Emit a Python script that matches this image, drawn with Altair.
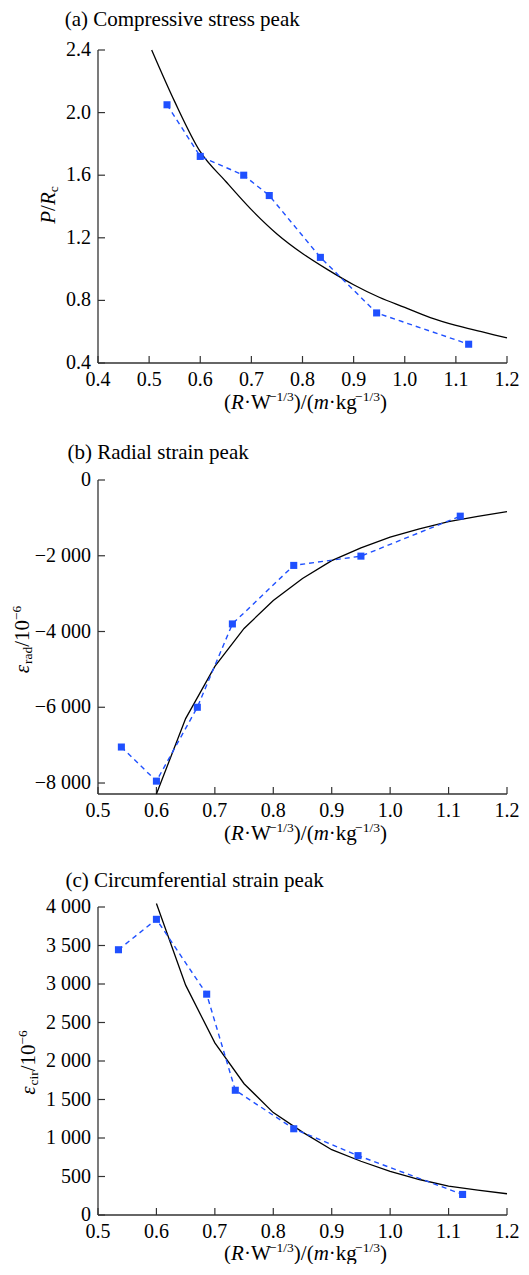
import altair as alt
import pandas as pd

# ---------------- data ----------------
A_X = [0.535, 0.600, 0.685, 0.735, 0.835, 0.945, 1.125]
A_Y = [2.05, 1.72, 1.60, 1.47, 1.075, 0.72, 0.52]
A_FIT_X = [0.505, 0.55, 0.60, 0.65, 0.70, 0.75, 0.80, 0.85, 0.90, 0.95, 1.00, 1.05, 1.10, 1.15, 1.20]
A_FIT_Y = [2.40, 2.07, 1.75, 1.56, 1.38, 1.225, 1.10, 0.995, 0.90, 0.82, 0.755, 0.69, 0.64, 0.60, 0.56]

B_X = [0.54, 0.60, 0.67, 0.73, 0.835, 0.95, 1.12]
B_Y = [-7050, -7950, -6000, -3800, -2255, -2010, -955]
B_FIT_X = [0.60, 0.65, 0.70, 0.75, 0.80, 0.85, 0.90, 0.95, 1.00, 1.05, 1.10, 1.15, 1.20]
B_FIT_Y = [-8290, -6300, -4920, -3920, -3180, -2600, -2130, -1790, -1510, -1290, -1100, -960, -836]

C_X = [0.535, 0.600, 0.686, 0.735, 0.835, 0.945, 1.124]
C_Y = [3445, 3840, 2868, 1620, 1120, 771, 267]
C_FIT_X = [0.60, 0.65, 0.70, 0.75, 0.80, 0.85, 0.90, 0.95, 1.00, 1.05, 1.10, 1.15, 1.20]
C_FIT_Y = [4045, 2985, 2235, 1705, 1330, 1076, 848, 698, 568, 461, 375, 323, 276]

# ticks and tick labels
A_XTICKS = [0.4, 0.5, 0.6, 0.7, 0.8, 0.9, 1.0, 1.1, 1.2]
A_XLABELS = ["0.4", "0.5", "0.6", "0.7", "0.8", "0.9", "1.0", "1.1", "1.2"]
BC_XTICKS = [0.5, 0.6, 0.7, 0.8, 0.9, 1.0, 1.1, 1.2]
BC_XLABELS = ["0.5", "0.6", "0.7", "0.8", "0.9", "1.0", "1.1", "1.2"]
A_YTICKS = [0.4, 0.8, 1.2, 1.6, 2.0, 2.4]
A_YLABELS = ["0.4", "0.8", "1.2", "1.6", "2.0", "2.4"]
B_YTICKS = [0, -2000, -4000, -6000, -8000]
B_YLABELS = ["0", "−2 000", "−4 000", "−6 000", "−8 000"]
C_YTICKS = [0, 500, 1000, 1500, 2000, 2500, 3000, 3500, 4000]
C_YLABELS = ["0", "500", "1 000", "1 500", "2 000", "2 500", "3 000", "3 500", "4 000"]

A_XDOM, A_YDOM = [0.4, 1.2], [0.4, 2.4]
B_XDOM, B_YDOM = [0.5, 1.2], [-8290, 0]
C_XDOM, C_YDOM = [0.5, 1.2], [0, 4000]

TITLE_A = "(a) Compressive stress peak"
TITLE_B = "(b) Radial strain peak"
TITLE_C = "(c) Circumferential strain peak"

# ---------------- styling ----------------
FONT = "Liberation Serif"
BLUE = "#1f50ff"
AXC = "#333333"
W = 409
MAIN = 21
SUB = 13.5
LABEL = 20

REG = {"(": .333, ")": .333, "/": .278, "·": .25, "W": .944, "k": .5, "g": .5,
       "−": .564, "1": .5, "3": .5, "0": .5, "6": .5, "r": .333, "a": .444,
       "d": .5, "c": .444, "i": .278}
ITA = {"R": .611, "m": .722, "P": .611, "ε": .44}


def text_width(s, italic, size):
    table = ITA if italic else REG
    return sum(table.get(ch, REG.get(ch, 0.5)) for ch in s) * size


def text_layer(s, x, y, size, italic=False, angle=0):
    kw = dict(align="left", baseline="alphabetic", font=FONT, fontSize=size, color="black")
    if italic:
        kw["fontStyle"] = "italic"
    if angle:
        kw["angle"] = angle
    return alt.Chart(pd.DataFrame({"t": [s]})).mark_text(**kw).encode(
        x=alt.value(x), y=alt.value(y), text="t:N")


def rich_h(segs, cx, base):
    widths = [text_width(s, it, sz) for s, it, sz, sh in segs]
    x = cx - sum(widths) / 2
    out = []
    for (s, it, sz, sh), w in zip(segs, widths):
        out.append(text_layer(s, x, base + sh, sz, it))
        x += w
    return out


def rich_v(segs, bx, cy):
    widths = [text_width(s, it, sz) for s, it, sz, sh in segs]
    y = cy + sum(widths) / 2
    out = []
    for (s, it, sz, sh), w in zip(segs, widths):
        out.append(text_layer(s, bx + sh, y, sz, it, angle=270))
        y -= w
    return out


XT = [("(", False, MAIN, 0), ("R", True, MAIN, 0), ("·W", False, MAIN, 0),
      ("−1/3", False, SUB, -8), (")/(", False, MAIN, 0), ("m", True, MAIN, 0),
      ("·kg", False, MAIN, 0), ("−1/3", False, SUB, -8), (")", False, MAIN, 0)]
YA = [("P", True, MAIN, 0), ("/", False, MAIN, 0), ("R", True, MAIN, 0), ("c", False, SUB, 3)]
YB = [("ε", True, MAIN, 0), ("rad", False, SUB, 3), ("/10", False, MAIN, 0), ("−6", False, SUB, -8)]
YC = [("ε", True, MAIN, 0), ("cir", False, SUB, 3), ("/10", False, MAIN, 0), ("−6", False, SUB, -8)]


def panel(px, py, fx, fy, xdom, ydom, xticks, xlabels, yticks, ylabels, height, yrange,
          title, tx, ty, ysegs, ybx, ycy, interp, lab_off, title_off, anchor=False):
    xs = alt.Scale(domain=xdom, nice=False, zero=False)
    if yrange is not None:
        ys = alt.Scale(domain=ydom, nice=False, zero=False, range=yrange)
    else:
        ys = alt.Scale(domain=ydom, nice=False, zero=False)

    def X(f):
        return alt.X(f, scale=xs, axis=None)

    def Y(f):
        return alt.Y(f, scale=ys, axis=None)

    pts = pd.DataFrame({"x": px, "y": py})
    fit = pd.DataFrame({"x": fx, "y": fy})
    xt_df = pd.DataFrame({"v": xticks, "lab": xlabels})
    yt_df = pd.DataFrame({"v": yticks, "lab": ylabels})
    xdom_df = pd.DataFrame({"lo": [xdom[0]], "hi": [xdom[1]]})
    ydom_df = pd.DataFrame({"lo": [ydom[0]], "hi": [ydom[1]]})

    xdomain = alt.Chart(xdom_df).mark_rule(color=AXC, strokeWidth=1.3).encode(
        x=X("lo:Q"), x2="hi:Q", y=alt.value(height))
    ydomain = alt.Chart(ydom_df).mark_rule(color=AXC, strokeWidth=1.3).encode(
        y=Y("lo:Q"), y2="hi:Q", x=alt.value(0))
    xt = alt.Chart(xt_df).mark_rule(color=AXC, strokeWidth=1.2).encode(
        x=X("v:Q"), y=alt.value(height), y2=alt.value(height - 7))
    yt = alt.Chart(yt_df).mark_rule(color=AXC, strokeWidth=1.2).encode(
        y=Y("v:Q"), x=alt.value(0), x2=alt.value(7))
    xl = alt.Chart(xt_df).mark_text(align="center", baseline="alphabetic", font=FONT,
                                    fontSize=LABEL, color="black").encode(
        x=X("v:Q"), y=alt.value(height + lab_off), text="lab:N")
    yl = alt.Chart(yt_df).mark_text(align="right", baseline="middle", font=FONT,
                                    fontSize=LABEL, color="black").encode(
        y=Y("v:Q"), x=alt.value(-7), text="lab:N")
    fitline = alt.Chart(fit).mark_line(color="black", strokeWidth=1.3, interpolate=interp).encode(
        x=X("x:Q"), y=Y("y:Q"))
    dashed = alt.Chart(pts).mark_line(color=BLUE, strokeDash=[5, 4], strokeWidth=1.4).encode(
        x=X("x:Q"), y=Y("y:Q"))
    squares = alt.Chart(pts).mark_point(shape="square", filled=True, size=50, color=BLUE,
                                        opacity=1).encode(x=X("x:Q"), y=Y("y:Q"))

    layers = [xdomain, ydomain, xt, yt, xl, yl, fitline, dashed, squares]
    layers.append(text_layer(title, tx, ty, MAIN))
    layers += rich_h(XT, W / 2 + 3, height + title_off)
    layers += rich_v(ysegs, ybx, ycy)
    if anchor:
        layers.append(alt.Chart(pd.DataFrame({"a": [0]})).mark_rect(color="white").encode(
            x=alt.value(-90), x2=alt.value(-89), y=alt.value(150), y2=alt.value(151)))
    return alt.layer(*layers).properties(width=W, height=height)


pa = panel(A_X, A_Y, A_FIT_X, A_FIT_Y, A_XDOM, A_YDOM, A_XTICKS, A_XLABELS, A_YTICKS, A_YLABELS,
           313, None, TITLE_A, -33.3, -24.3, YA, -43.5, 155, "monotone", 23, 46, anchor=True)
pb = panel(B_X, B_Y, B_FIT_X, B_FIT_Y, B_XDOM, B_YDOM, BC_XTICKS, BC_XLABELS, B_YTICKS, B_YLABELS,
           314, None, TITLE_B, -30.6, -20.6, YB, -69.5, 159.5, "linear", 23, 46)
pc = panel(C_X, C_Y, C_FIT_X, C_FIT_Y, C_XDOM, C_YDOM, BC_XTICKS, BC_XLABELS, C_YTICKS, C_YLABELS,
           304, [304, -4], TITLE_C, -32.6, -24, YC, -63, 151.5, "linear", 23, 45)

chart = alt.vconcat(pa, pb, pc, spacing=117, bounds="flush").properties(
    padding=0
).configure_view(strokeWidth=0)

chart.save("out.html", embed_options={"renderer": "svg", "actions": False})
